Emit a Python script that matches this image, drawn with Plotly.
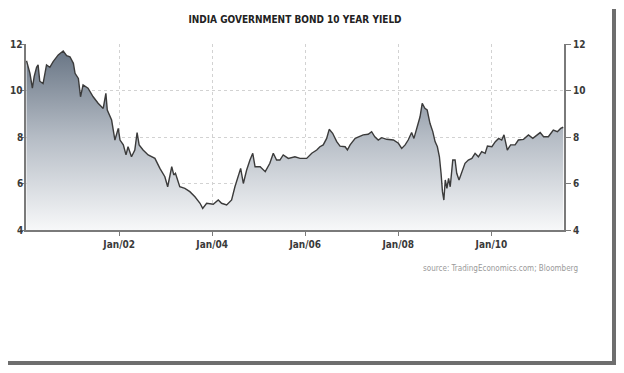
import plotly.graph_objects as go

dates = [
    "2000-01-05", "2000-02-01", "2000-02-20", "2000-03-05", "2000-03-24", "2000-04-05", "2000-04-18",
    "2000-05-14", "2000-06-10", "2000-07-06", "2000-08-01", "2000-09-10", "2000-10-19", "2000-11-15",
    "2000-12-11", "2001-01-07", "2001-01-20", "2001-02-15", "2001-03-04", "2001-03-24", "2001-05-02",
    "2001-06-11", "2001-07-20", "2001-08-29", "2001-09-19", "2001-09-30", "2001-11-03", "2001-11-29",
    "2001-12-25", "2002-01-08", "2002-02-03", "2002-02-24", "2002-03-12", "2002-04-08", "2002-05-04",
    "2002-05-22", "2002-06-07", "2002-07-08", "2002-08-17", "2002-10-09", "2002-11-17", "2002-12-26",
    "2003-01-17", "2003-02-18", "2003-03-06", "2003-03-19", "2003-04-22", "2003-06-01", "2003-07-10",
    "2003-08-19", "2003-09-28", "2003-10-19", "2003-11-19", "2004-01-10", "2004-02-18", "2004-03-15",
    "2004-04-24", "2004-06-02", "2004-06-28", "2004-07-24", "2004-08-12", "2004-09-02", "2004-09-28",
    "2004-10-24", "2004-11-15", "2004-12-03", "2005-01-12", "2005-02-21", "2005-03-29", "2005-04-25",
    "2005-05-21", "2005-06-16", "2005-07-12", "2005-08-21", "2005-10-12", "2005-11-21", "2006-01-12",
    "2006-02-21", "2006-04-01", "2006-04-26", "2006-05-22", "2006-06-18", "2006-07-08", "2006-08-04",
    "2006-09-05", "2006-10-01", "2006-11-10", "2006-11-28", "2006-12-19", "2007-01-28", "2007-02-22",
    "2007-04-01", "2007-05-10", "2007-06-06", "2007-07-01", "2007-07-28", "2007-08-24", "2007-10-02",
    "2007-11-24", "2008-01-02", "2008-01-28", "2008-02-24", "2008-03-19", "2008-04-15", "2008-05-03",
    "2008-05-29", "2008-06-20", "2008-07-07", "2008-07-28", "2008-08-15", "2008-09-06", "2008-09-28",
    "2008-10-16", "2008-11-03", "2008-11-19", "2008-12-02", "2008-12-13", "2008-12-24", "2009-01-04",
    "2009-01-17", "2009-01-30", "2009-02-12", "2009-03-04", "2009-03-22", "2009-04-04", "2009-04-22",
    "2009-05-13", "2009-06-08", "2009-07-04", "2009-08-01", "2009-08-26", "2009-09-21", "2009-10-17",
    "2009-11-13", "2009-12-01", "2010-01-05", "2010-02-01", "2010-02-27", "2010-03-23", "2010-04-10",
    "2010-05-06", "2010-06-01", "2010-07-06", "2010-08-01", "2010-09-10", "2010-10-19", "2010-11-22",
    "2010-12-24", "2011-01-19", "2011-02-15", "2011-03-24", "2011-05-02", "2011-06-03", "2011-06-29",
    "2011-07-19",
]

yields = [
    11.28, 10.74, 10.10, 10.60, 11.00, 11.10, 10.40,
    10.30, 11.10, 11.00, 11.24, 11.53, 11.70, 11.50,
    11.45, 11.17, 10.74, 10.52, 9.73, 10.24, 10.10,
    9.73, 9.45, 9.23, 9.88, 9.16, 8.73, 7.87,
    8.37, 7.87, 7.66, 7.23, 7.58, 7.15, 7.44,
    8.19, 7.66, 7.44, 7.23, 7.08, 6.65, 6.29,
    5.86, 6.72, 6.37, 6.44, 5.86, 5.79, 5.65,
    5.43, 5.15, 4.93, 5.15, 5.11, 5.29, 5.15,
    5.08, 5.29, 5.86, 6.29, 6.65, 6.00, 6.58,
    7.01, 7.30, 6.72, 6.72, 6.51, 6.87, 7.30,
    7.01, 7.01, 7.23, 7.08, 7.15, 7.08, 7.08,
    7.30, 7.44, 7.58, 7.66, 7.94, 8.33, 8.16,
    7.80, 7.61, 7.58, 7.44, 7.66, 7.94, 8.01,
    8.09, 8.12, 8.23, 8.01, 7.87, 7.97, 7.90,
    7.87, 7.73, 7.51, 7.66, 7.87, 8.19, 7.94,
    8.44, 8.87, 9.45, 9.23, 9.16, 8.59, 8.23,
    7.80, 7.58, 7.15, 6.44, 5.65, 5.29, 6.15,
    5.79, 6.22, 5.86, 7.01, 7.01, 6.44, 6.15,
    6.44, 6.87, 7.01, 7.08, 7.30, 7.15, 7.37,
    7.30, 7.61, 7.58, 7.80, 7.94, 7.87, 8.09,
    7.44, 7.66, 7.66, 7.87, 7.90, 8.09, 7.94,
    8.09, 8.19, 8.01, 8.01, 8.30, 8.23, 8.37,
    8.42,
]

tick_dates = ["2002-01-01", "2004-01-01", "2006-01-01", "2008-01-01", "2010-01-01"]
tick_labels = ["Jan/02", "Jan/04", "Jan/06", "Jan/08", "Jan/10"]
y_ticks = [4, 6, 8, 10, 12]

# page body has an 8px margin; keep the figure inside the viewport
OFF = 8
W, H = 624 - 2 * OFF, 373 - 2 * OFF
L, R, T, B = 26 - OFF, 564 - OFF, 44 - OFF, 230 - OFF

def px(p):
    return (p - OFF - L) / (R - L)

def py(p):
    return (B - (p - OFF)) / (B - T)

fig = go.Figure()
fig.add_trace(go.Scatter(
    x=dates, y=yields, mode="lines",
    line=dict(color="#3b3b3b", width=1.4),
    fill="tozeroy",
    fillgradient=dict(type="vertical", start=4, stop=12,
                      colorscale=[[0, "#f7f8f9"], [0.5, "#b5bcc5"], [1, "#637080"]]),
    showlegend=False, hoverinfo="skip",
))
fig.add_trace(go.Scatter(
    x=dates, y=yields, mode="lines", yaxis="y2",
    line=dict(width=0, color="rgba(0,0,0,0)"),
    showlegend=False, hoverinfo="skip",
))

axis_font = dict(family="DejaVu Sans Condensed, DejaVu Sans", size=10, color="#3a3a3a", weight="bold")
yaxis_font = dict(family="DejaVu Sans Condensed, DejaVu Sans", size=10, color="#3a3a3a", weight="bold")

left_labels = [dict(
    text=str(v), xref="paper", yref="y", x=px(24), y=v,
    xanchor="right", yanchor="middle", showarrow=False, font=yaxis_font,
    borderpad=0,
) for v in y_ticks]

fig.update_layout(
    width=W, height=H,
    margin=dict(l=L, r=W - R, t=T, b=H - B, autoexpand=False),
    paper_bgcolor="white", plot_bgcolor="white",
    xaxis=dict(
        range=["2000-01-01", "2011-07-25"],
        tickvals=tick_dates, ticktext=tick_labels,
        showgrid=True, gridcolor="#d2d2d2", griddash="dot", gridwidth=1,
        showline=True, linecolor="#7a7a7a", linewidth=2,
        ticks="outside", ticklen=4, tickcolor="#7a7a7a",
        tickfont=axis_font, zeroline=False, automargin=False,
    ),
    yaxis=dict(
        range=[4, 12], tickvals=y_ticks, showticklabels=False,
        showgrid=True, gridcolor="#d2d2d2", griddash="dot", gridwidth=1,
        showline=True, linecolor="#7a7a7a", linewidth=2,
        ticks="outside", ticklen=4, tickcolor="#7a7a7a",
        zeroline=False, automargin=False,
    ),
    yaxis2=dict(
        range=[4, 12], tickvals=y_ticks, overlaying="y", side="right",
        showgrid=False, showline=True, linecolor="#7a7a7a", linewidth=2,
        ticks="outside", ticklen=5, tickcolor="#7a7a7a",
        tickfont=yaxis_font, zeroline=False, automargin=False,
    ),
    title=dict(
        text="INDIA GOVERNMENT BOND 10 YEAR YIELD",
        font=dict(family="DejaVu Sans Condensed, DejaVu Sans", size=10, color="#222222", weight="bold"),
        x=(295 - OFF) / W, xref="container", xanchor="center",
        y=1 - (19 - OFF) / H, yref="container", yanchor="middle",
    ),
    annotations=left_labels + [dict(
        text="source: TradingEconomics.com; Bloomberg",
        xref="paper", yref="paper", x=px(580), y=py(268),
        xanchor="right", yanchor="middle", showarrow=False,
        font=dict(family="DejaVu Sans Condensed, DejaVu Sans", size=8, color="#9a9a9a"),
    )],
    shapes=[
        dict(type="rect", xref="paper", yref="paper",
             x0=px(612), x1=px(616), y0=py(9), y1=py(365),
             fillcolor="#6e6e6e", line=dict(width=0), layer="above"),
        dict(type="rect", xref="paper", yref="paper",
             x0=px(8), x1=px(616), y0=py(361), y1=py(365),
             fillcolor="#6e6e6e", line=dict(width=0), layer="above"),
    ],
)

fig.write_html("out.html")
